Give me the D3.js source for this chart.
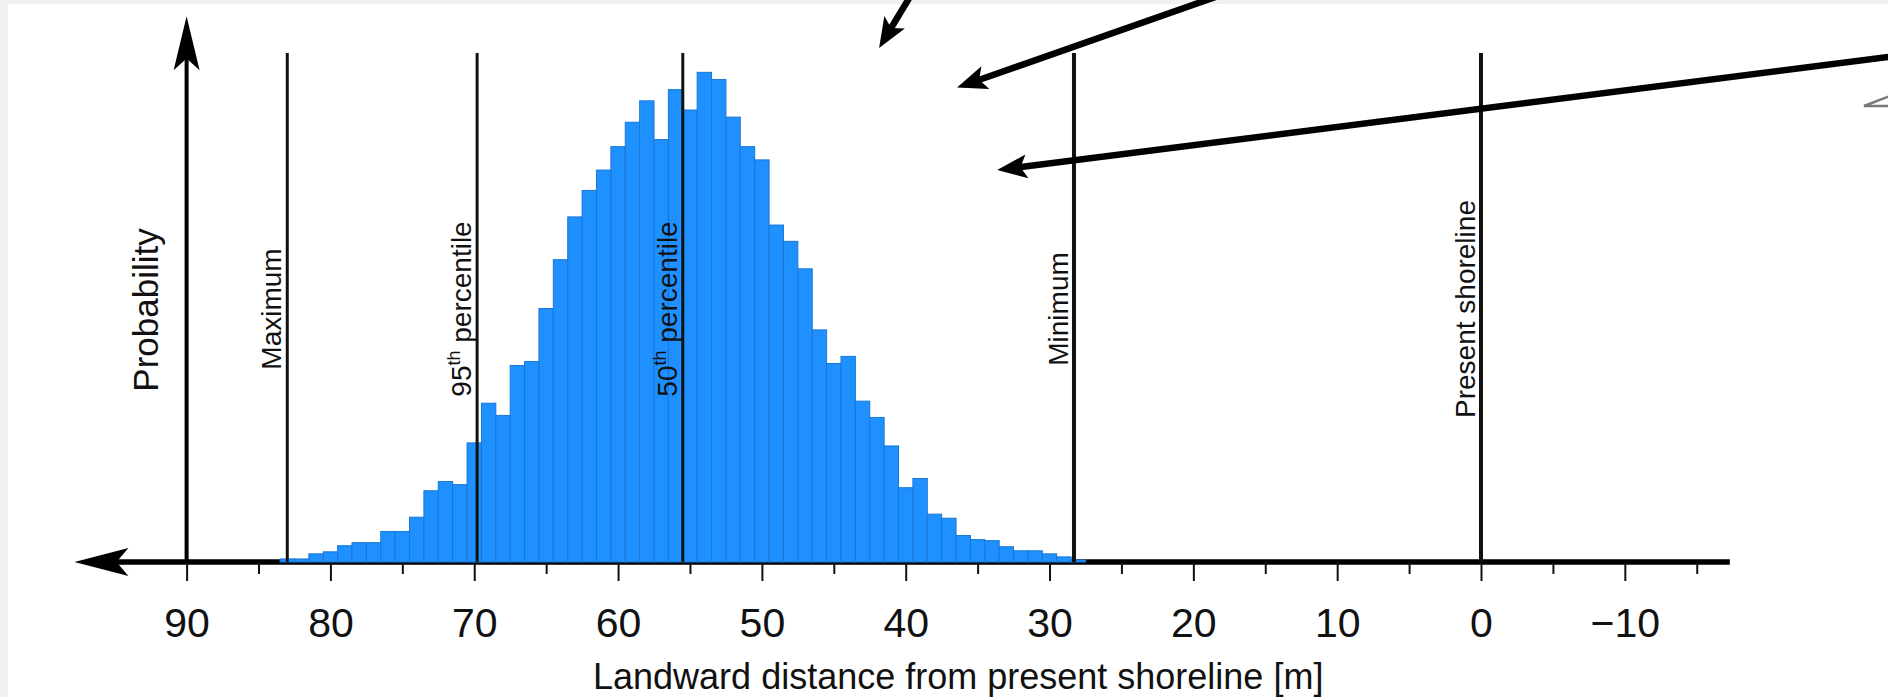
<!DOCTYPE html>
<html>
<head>
<meta charset="utf-8">
<script src="https://cdn.jsdelivr.net/npm/d3@7"></script>
<style>
    body { margin: 0; background: #f1f1f2; }
    svg { display: block; }
    text { font-family: "Liberation Sans", Arial, Helvetica, sans-serif; fill: #111; }
</style>
</head>
<body>
<div id="chart"></div>
<script>
// Histogram: centre of each 1 m bin and its probability
const binCenters = [83, 82, 81, 80, 79, 78, 77, 76, 75, 74, 73, 72, 71, 70, 69, 68, 67, 66, 65, 64,
    63, 62, 61, 60, 59, 58, 57, 56, 55, 54, 53, 52, 51, 50, 49, 48, 47, 46, 45, 44,
    43, 42, 41, 40, 39, 38, 37, 36, 35, 34, 33, 32, 31, 30, 29, 28];
const probabilities = [0.0003, 0.0003, 0.0008, 0.0010, 0.0016, 0.0019, 0.0019, 0.0030, 0.0030, 0.0044,
    0.0070, 0.0079, 0.0076, 0.0117, 0.0156, 0.0144, 0.0193, 0.0197, 0.0249, 0.0297,
    0.0339, 0.0365, 0.0385, 0.0408, 0.0432, 0.0453, 0.0415, 0.0464, 0.0444, 0.0481,
    0.0474, 0.0437, 0.0408, 0.0395, 0.0331, 0.0315, 0.0288, 0.0228, 0.0195, 0.0202,
    0.0158, 0.0142, 0.0114, 0.0073, 0.0082, 0.0047, 0.0043, 0.0026, 0.0022, 0.0021,
    0.0015, 0.0011, 0.0011, 0.0008, 0.0005, 0.0002];

// Vertical reference lines
const markerValues = [83.0, 69.8, 55.5, 28.3, 0];
const markerLabels = ["Maximum", "95th percentile", "50th percentile", "Minimum", "Present shoreline"];

// Axis ticks
const majorTicks = [90, 80, 70, 60, 50, 40, 30, 20, 10, 0, -10];
const minorTicks = [85, 75, 65, 55, 45, 35, 25, 15, 5, -5, -15];
const tickLabels = ["90", "80", "70", "60", "50", "40", "30", "20", "10", "0", "\u221210"];
const xTitle = "Landward distance from present shoreline [m]";
const yTitle = "Probability";

// Axis extents (data units) and pointer arrows coming from outside the panel
const xAxisExtent = [97.8, -17.3];
const yAxisTop = 0.0536;
const pointerArrows = [
    [[39.5, 0.0560], [41.85, 0.0505]],
    [[17.46, 0.0560], [36.43, 0.0466]],
    [[-29.15, 0.04975], [33.64, 0.0385]]
];

const width = 1888, height = 697;

const svg = d3.select('#chart')
    .append('svg')
    .attr('width', width)
    .attr('height', height);

// white panel with a thin grey frame on top/left
svg.append("rect")
    .attr("x", 8).attr("y", 4)
    .attr("width", width - 8).attr("height", height - 4)
    .attr("fill", "white");

const x = d3.scaleLinear().domain([90, 0]).range([186.6, 1481]);
const y = d3.scaleLinear().domain([0, 0.05]).range([562, 53]);

// arrow head pointing along +x in local coords, tip at origin
function arrowHead(tip, angle, len, halfW) {
    svg.append("path")
        .attr("d", `M0,0 L${-len},${-halfW} L${-len * 0.78},0 L${-len},${halfW} Z`)
        .attr("transform", `translate(${tip[0]},${tip[1]}) rotate(${angle})`)
        .attr("fill", "black");
}

// heavy x axis line (bars sit on top of it)
const x0 = x(xAxisExtent[0]);
svg.append("line")
    .attr("x1", x0 + 40).attr("y1", y(0))
    .attr("x2", x(xAxisExtent[1])).attr("y2", y(0))
    .attr("stroke", "black")
    .attr("stroke-width", 5.5);
arrowHead([x0, y(0)], 180, 54, 14);

// ticks
const majorAxis = d3.axisBottom(x)
    .tickValues(majorTicks)
    .tickFormat((d, i) => tickLabels[i])
    .tickSize(19)
    .tickPadding(27);
const gMajor = svg.append("g")
    .attr("transform", `translate(0,${y(0)})`)
    .call(majorAxis);
gMajor.select(".domain").remove();
gMajor.selectAll("line").attr("stroke", "#111").attr("stroke-width", 2);
gMajor.selectAll("text")
    .attr("font-size", 41)
    .attr("fill", "#111")
    .style("font-family", "'Liberation Sans', Arial, sans-serif");

const minorAxis = d3.axisBottom(x)
    .tickValues(minorTicks)
    .tickFormat("")
    .tickSize(12);
const gMinor = svg.append("g")
    .attr("transform", `translate(0,${y(0)})`)
    .call(minorAxis);
gMinor.select(".domain").remove();
gMinor.selectAll("line").attr("stroke", "#111").attr("stroke-width", 2);

// histogram bars
svg.append("g")
    .selectAll("rect")
    .data(binCenters)
    .join("rect")
    .attr("x", d => x(d + 0.5))
    .attr("width", d => x(d - 0.5) - x(d + 0.5))
    .attr("y", (d, i) => y(probabilities[i]))
    .attr("height", (d, i) => y(0) - y(probabilities[i]))
    .attr("fill", "#1e90ff")
    .attr("stroke", "#1a77d4")
    .attr("stroke-width", 1);

// y axis with arrow
const yTopPx = y(yAxisTop);
svg.append("line")
    .attr("x1", x(90)).attr("y1", y(0))
    .attr("x2", x(90)).attr("y2", yTopPx + 40)
    .attr("stroke", "black")
    .attr("stroke-width", 4);
arrowHead([x(90), yTopPx], -90, 54, 13);

// reference lines and their labels
markerValues.forEach((v, i) => {
    const px = x(v);
    svg.append("line")
        .attr("x1", px).attr("y1", y(0))
        .attr("x2", px).attr("y2", y(0.05))
        .attr("stroke", "#111")
        .attr("stroke-width", i >= 3 ? 4 : 3);

    const t = svg.append("text")
        .attr("transform", `translate(${px - 6},309) rotate(-90)`)
        .attr("text-anchor", "middle")
        .attr("font-size", 28);
    const m = markerLabels[i].match(/^(\d+)(th)(.*)$/);
    if (m) {
        t.append("tspan").text(m[1]);
        t.append("tspan").attr("font-size", 18).attr("dy", -11).text(m[2]);
        t.append("tspan").attr("dy", 11).text(m[3]);
    } else {
        t.text(markerLabels[i]);
    }
});

// axis titles
svg.append("text")
    .attr("transform", `translate(158,310) rotate(-90)`)
    .attr("text-anchor", "middle")
    .attr("font-size", 35)
    .text(yTitle);

svg.append("text")
    .attr("x", (x(90) + x(xAxisExtent[1])) / 2)
    .attr("y", 689)
    .attr("text-anchor", "middle")
    .attr("font-size", 36)
    .text(xTitle);

// pointer arrows from the surrounding figure
pointerArrows.forEach(([s, e]) => {
    const sx = x(s[0]), sy = y(s[1]), ex = x(e[0]), ey = y(e[1]);
    const ang = Math.atan2(ey - sy, ex - sx);
    svg.append("line")
        .attr("x1", sx).attr("y1", sy)
        .attr("x2", ex - Math.cos(ang) * 20).attr("y2", ey - Math.sin(ang) * 20)
        .attr("stroke", "black")
        .attr("stroke-width", 6.5);
    arrowHead([ex, ey], ang * 180 / Math.PI, 30, 12);
});

// grey fragment at the right edge
svg.append("path")
    .attr("d", `M1890,96 L1864,106 L1890,106`)
    .attr("fill", "none")
    .attr("stroke", "#777")
    .attr("stroke-width", 2.5);
</script>
</body>
</html>
